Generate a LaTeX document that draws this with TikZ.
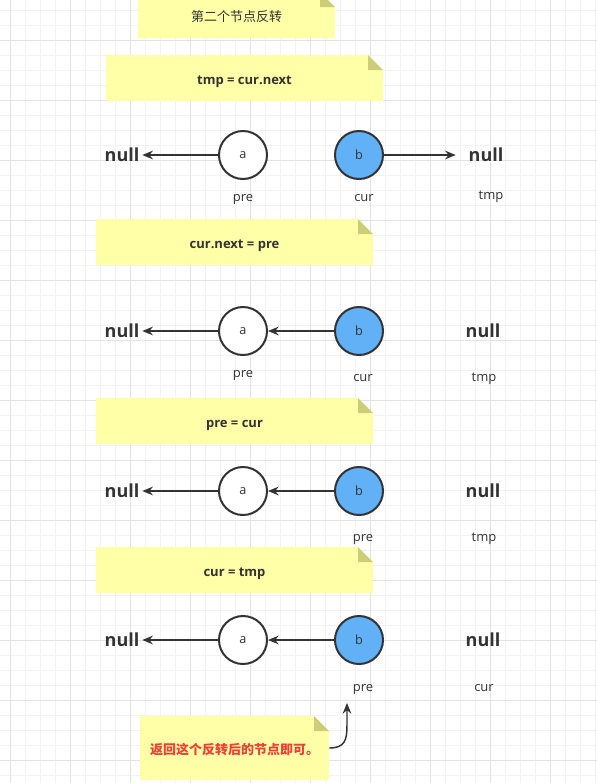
\documentclass[tikz,border=0pt]{standalone}
\usepackage{fontspec}
\setmainfont{Open Sans}
\newfontfamily\cjk{Noto Sans CJK SC}
\usetikzlibrary{arrows.meta}
\definecolor{notefill}{HTML}{FFFFA8}
\definecolor{foldfill}{HTML}{CDCD78}
\definecolor{txt}{HTML}{333333}
\definecolor{nodeblue}{HTML}{62B1F6}
\definecolor{gridminor}{HTML}{F2F2F2}
\definecolor{gridmajor}{HTML}{E3E3E3}
\definecolor{redtxt}{HTML}{EE4035}
\tikzset{
  note/.style={inner sep=0pt, text=txt, text height=10pt, text depth=0pt,
    font=\fontsize{9.75pt}{11pt}\selectfont\bfseries,
    path picture={
      \fill[notefill] (path picture bounding box.south west) -- (path picture bounding box.north west)
        -- ([xshift=-11.25pt]path picture bounding box.north east)
        -- ([yshift=-11.25pt]path picture bounding box.north east)
        -- (path picture bounding box.south east) -- cycle;
      \fill[foldfill] ([xshift=-11.25pt]path picture bounding box.north east)
        -- ([xshift=-11.25pt,yshift=-11.25pt]path picture bounding box.north east)
        -- ([yshift=-11.25pt]path picture bounding box.north east) -- cycle;
    }},
  listnode/.style={circle, draw=txt, line width=1.5pt, minimum size=36pt, inner sep=0pt,
    text=txt, font=\fontsize{9.5pt}{10pt}\selectfont},
  whitenode/.style={listnode, fill=white},
  bluenode/.style={listnode, fill=nodeblue},
  nulltext/.style={text=txt, font=\fontsize{13.5pt}{15pt}\selectfont\bfseries, inner sep=2pt},
  lbl/.style={text=txt, font=\fontsize{9.75pt}{11pt}\selectfont, inner sep=0pt, text height=6pt, text depth=0pt},
  link/.style={draw=txt, line width=1.1pt, -{Stealth[length=8pt,width=6.5pt]}}
}
\begin{document}
\begin{tikzpicture}[x=0.75pt,y=-0.75pt]
\useasboundingbox (0,0) rectangle (597,783);
\fill[white] (0,0) rectangle (597,783);
% grid
\foreach \x in {10,25,...,595} \draw[gridminor,line width=0.75pt] (\x,0) -- (\x,783);
\foreach \y in {10,25,...,780} \draw[gridminor,line width=0.75pt] (0,\y) -- (597,\y);
\foreach \x in {10,70,...,595} \draw[gridmajor,line width=0.75pt] (\x,0) -- (\x,783);
\foreach \y in {40,100,...,780} \draw[gridmajor,line width=0.75pt] (0,\y) -- (597,\y);

% notes
\node[note, minimum width=147.75pt, minimum height=34.5pt, font=\fontsize{9.75pt}{11pt}\selectfont\cjk] (n1) at (236.5,15) {第二个节点反转};
\node[note, minimum width=207.75pt, minimum height=34.5pt] (n2) at (244.5,78) {tmp = cur.next};
\node[note, minimum width=207.75pt, minimum height=34.5pt] (n3) at (234.5,242) {cur.next = pre};
\node[note, minimum width=207.75pt, minimum height=34.5pt] (n4) at (234.5,421) {pre = cur};
\node[note, minimum width=207.75pt, minimum height=34.5pt] (n5) at (234.5,570) {cur = tmp};
\node[note, minimum width=141.75pt, minimum height=48pt, text=redtxt, font=\fontsize{9.75pt}{11pt}\selectfont\cjk\bfseries] (n6) at (234.5,748) {返回这个反转后的节点即可。};

% row 1
\node[whitenode] (a1) at (243,155) {a};
\node[bluenode] (b1) at (359,155) {b};
\node[nulltext] (nl1) at (122,155) {null};
\node[nulltext] (nr1) at (486,155) {null};
\node[lbl] (p1) at (243,197) {pre};
\node[lbl] (c1) at (364,197) {cur};
\node[lbl] (t1) at (491,195) {tmp};
\draw[link] (a1) -- (nl1);
\draw[link] (b1) -- ([xshift=-7.5pt]nr1.west);

% row 2
\node[whitenode] (a2) at (243,331) {a};
\node[bluenode] (b2) at (359,331) {b};
\node[nulltext] (nl2) at (122,331) {null};
\node[nulltext] (nr2) at (483,331) {null};
\node[lbl] (p2) at (243,373) {pre};
\node[lbl] (c2) at (363,377) {cur};
\node[lbl] (t2) at (484,377) {tmp};
\draw[link] (a2) -- (nl2);
\draw[link] (b2) -- (a2);

% row 3
\node[whitenode] (a3) at (243,491) {a};
\node[bluenode] (b3) at (359,491) {b};
\node[nulltext] (nl3) at (122,491) {null};
\node[nulltext] (nr3) at (483,491) {null};
\node[lbl] (p3) at (363,537) {pre};
\node[lbl] (t3) at (484,537) {tmp};
\draw[link] (a3) -- (nl3);
\draw[link] (b3) -- (a3);

% row 4
\node[whitenode] (a4) at (243,640) {a};
\node[bluenode] (b4) at (359,640) {b};
\node[nulltext] (nl4) at (122,640) {null};
\node[nulltext] (nr4) at (483,640) {null};
\node[lbl] (p4) at (363,687) {pre};
\node[lbl] (c4) at (484,687) {cur};
\draw[link] (a4) -- (nl4);
\draw[link] (b4) -- (a4);

% return arrow
\coordinate (ret) at (347,703);
\draw[link] (n6.east) .. controls (345,748) and (347,740) .. (347,725) -- (ret);
\end{tikzpicture}
\end{document}
